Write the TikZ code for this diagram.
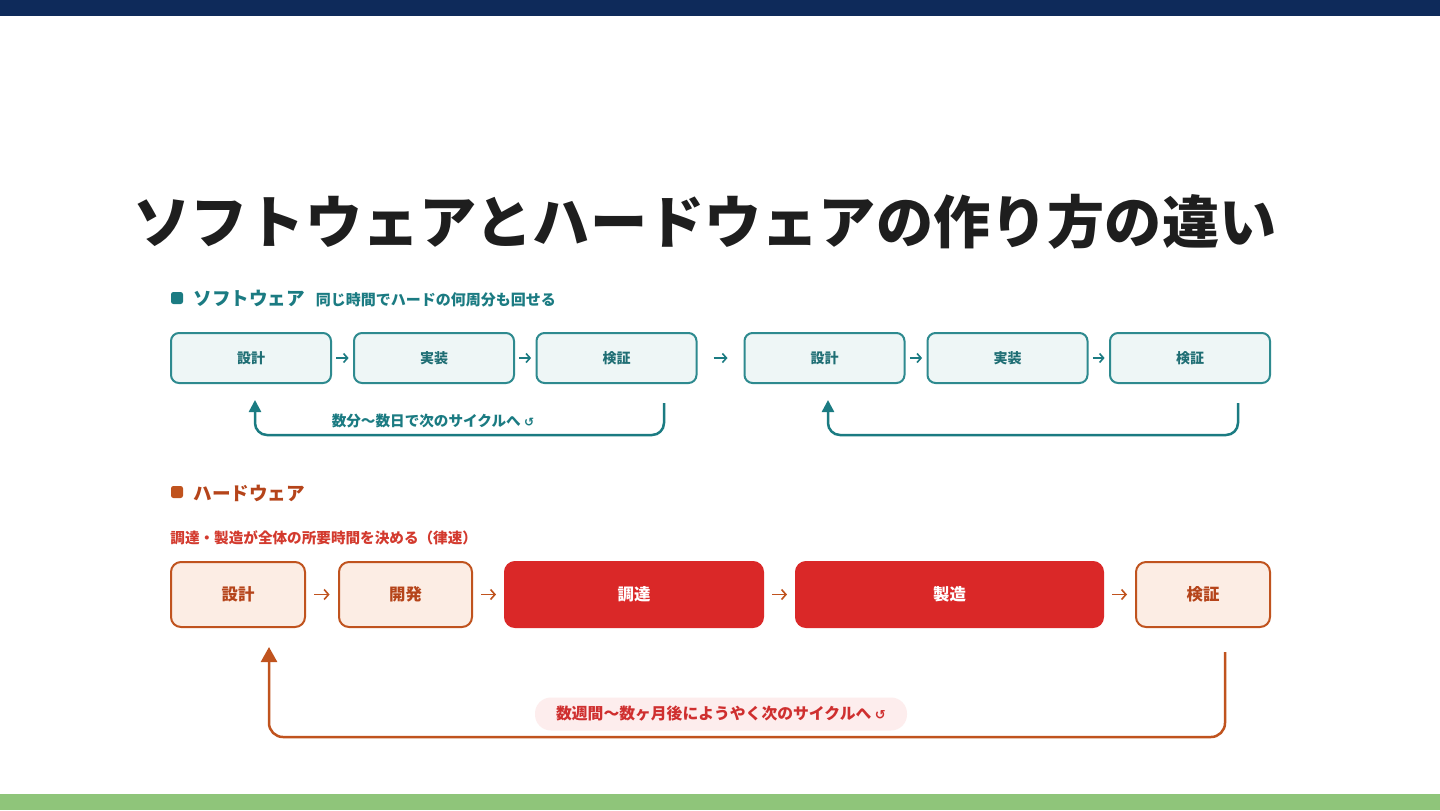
\documentclass[tikz,border=0pt]{standalone}
\usepackage{fontspec}
\setmainfont{Noto Sans CJK JP}
\newfontfamily\symfont{DejaVu Sans}
\usetikzlibrary{arrows.meta}
\definecolor{navybar}{HTML}{0E2A5A}
\definecolor{greenbar}{HTML}{8FC57A}
\definecolor{titlecol}{HTML}{1E1E1E}
\definecolor{swmain}{HTML}{1B7B82}
\definecolor{swborder}{HTML}{2E8A8F}
\definecolor{swfill}{HTML}{EEF6F6}
\definecolor{swtext}{HTML}{1F6E74}
\definecolor{hwmain}{HTML}{C0531E}
\definecolor{hwtext}{HTML}{B5441A}
\definecolor{hwfill}{HTML}{FCEDE4}
\definecolor{hwred}{HTML}{DA2828}
\definecolor{hwsub}{HTML}{D33A2E}
\definecolor{pillfill}{HTML}{FDEDED}
\definecolor{pilltext}{HTML}{CF2F2F}
\tikzset{
  swbox/.style={draw=swborder, line width=1pt, fill=swfill, rounded corners=4pt,
    minimum width=80pt, minimum height=25pt, inner sep=0pt, text=swtext,
    font=\fontsize{7}{8}\selectfont\bfseries},
  hwbox/.style={draw=hwmain, line width=1pt, fill=hwfill, rounded corners=5pt,
    minimum height=32.5pt, inner sep=0pt, text=hwtext,
    font=\fontsize{8.2}{9}\selectfont\bfseries},
  hwredbox/.style={draw=hwred, line width=1pt, fill=hwred, rounded corners=5pt,
    minimum height=32.5pt, inner sep=0pt, text=white,
    font=\fontsize{8.2}{9}\selectfont\bfseries},
  swarr/.style={draw=swmain, line width=0.8pt, -{Straight Barb[length=2pt,width=4.5pt]},
    shorten <=#1, shorten >=#1},
  hwarr/.style={draw=hwmain, line width=0.8pt, -{Straight Barb[length=2.2pt,width=5pt]},
    shorten <=#1, shorten >=#1},
  swloop/.style={draw=swmain, line width=1.25pt, rounded corners=6pt,
    -{Triangle[width=6pt,length=6pt]}},
  hwloop/.style={draw=hwmain, line width=1.25pt, rounded corners=7pt,
    -{Triangle[width=8pt,length=7.5pt]}},
  headsq/.style={rounded corners=1.2pt, minimum size=6pt, inner sep=0pt},
}
\begin{document}
\begin{tikzpicture}[x=0.5pt, y=-0.5pt]
\useasboundingbox (0,0) rectangle (1440,810);
\fill[white] (0,0) rectangle (1440,810);
% bars
\fill[navybar] (0,0) rectangle (1440,16);
\fill[greenbar] (0,794) rectangle (1440,810);
% title
\node[text=titlecol, font=\fontsize{28.6}{32}\selectfont\bfseries] (title) at (705,222)
  {ソフトウェアとハードウェアの作り方の違い};
% software header
\node[headsq, fill=swmain] (swsq) at (177,298) {};
\node[anchor=west, inner sep=0pt, text=swmain, font=\fontsize{9.3}{10}\selectfont\bfseries] (swhead) at (193,298) {ソフトウェア};
\node[anchor=base west, inner sep=0pt, text=swmain, font=\fontsize{7.5}{8}\selectfont\bfseries] (swsub) at ([xshift=5pt]swhead.base east) {同じ時間でハードの何周分も回せる};
% software boxes
\node[swbox] (s1) at (251,358) {設計};
\node[swbox] (s2) at (434,358) {実装};
\node[swbox] (s3) at (616.5,358) {検証};
\node[swbox] (s4) at (824.5,358) {設計};
\node[swbox] (s5) at (1007.5,358) {実装};
\node[swbox] (s6) at (1190,358) {検証};
\draw[swarr=2.2pt] (s1) -- (s2);
\draw[swarr=2.2pt] (s2) -- (s3);
\draw[swarr=8pt] (s3) -- (s4);
\draw[swarr=2.2pt] (s4) -- (s5);
\draw[swarr=2.2pt] (s5) -- (s6);
% software loops
\coordinate (l1s) at (664,403);
\coordinate (l1e) at (255,400);
\draw[swloop] (l1s) -- (664,435) -- (255,435) -- (l1e);
\node[fill=white, inner xsep=3pt, inner ysep=1pt, text=swmain, font=\fontsize{7.3}{8}\selectfont\bfseries] (l1lab) at (433,421)
  {数分〜数日で次のサイクルへ {\symfont\fontsize{6}{7}\selectfont ↺}};
\coordinate (l2s) at (1238,403);
\coordinate (l2e) at (828,400);
\draw[swloop] (l2s) -- (1238,435) -- (828,435) -- (l2e);
% hardware header
\node[headsq, fill=hwmain] (hwsq) at (177,492) {};
\node[anchor=west, inner sep=0pt, text=hwtext, font=\fontsize{9.3}{10}\selectfont\bfseries] (hwhead) at (193,493) {ハードウェア};
\node[anchor=west, inner sep=0pt, text=hwsub, font=\fontsize{7.3}{8}\selectfont\bfseries] (hwsubl) at (170,538) {調達・製造が全体の所要時間を決める（律速）};
% hardware boxes
\node[hwbox, minimum width=67pt] (h1) at (238,594.5) {設計};
\node[hwbox, minimum width=66.5pt] (h2) at (405.5,594.5) {開発};
\node[hwredbox, minimum width=129pt] (h3) at (634,594.5) {調達};
\node[hwredbox, minimum width=153.5pt] (h4) at (949.5,594.5) {製造};
\node[hwbox, minimum width=67pt] (h5) at (1203,594.5) {検証};
\draw[hwarr=4.2pt] (h1) -- (h2);
\draw[hwarr=4pt] (h2) -- (h3);
\draw[hwarr=4pt] (h3) -- (h4);
\draw[hwarr=4pt] (h4) -- (h5);
% hardware loop
\coordinate (l3s) at (1225,652);
\coordinate (l3e) at (269,647);
\draw[hwloop] (l3s) -- (1225,737) -- (269,737) -- (l3e);
\node[fill=pillfill, rounded corners=8pt, minimum width=186pt, minimum height=16.5pt, inner sep=0pt,
  text=pilltext, font=\fontsize{7.9}{9}\selectfont\bfseries] (pill) at (721,714)
  {数週間〜数ヶ月後にようやく次のサイクルへ {\symfont\fontsize{6.5}{7}\selectfont ↺}};
\end{tikzpicture}
\end{document}
